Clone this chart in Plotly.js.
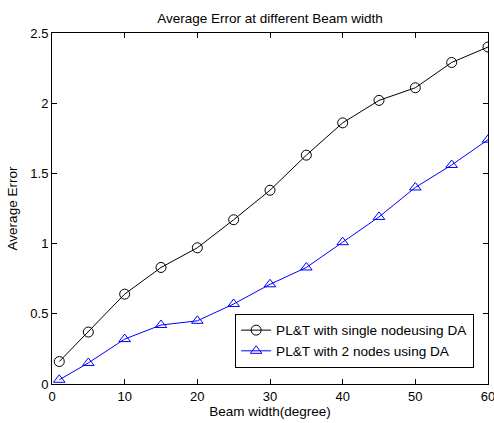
<!DOCTYPE html>
<html><head><meta charset="utf-8">
<script src="https://cdn.plot.ly/plotly-3.0.1.min.js"></script>
<style>body{margin:0;background:#fff}#c{width:494px;height:423px}</style>
</head><body><div id="c"></div>
<script>
const beamWidth = [1, 5, 10, 15, 20, 25, 30, 35, 40, 45, 50, 55, 60];
const singleNode = [0.16, 0.37, 0.64, 0.83, 0.97, 1.17, 1.38, 1.63, 1.86, 2.02, 2.11, 2.29, 2.40];
const twoNodes = [0.03, 0.15, 0.32, 0.42, 0.45, 0.57, 0.71, 0.83, 1.01, 1.19, 1.40, 1.56, 1.74];
const seriesNames = ['PL&T with single nodeusing DA', 'PL&T with 2 nodes using DA'];
const xTicks = [0, 10, 20, 30, 40, 50, 60];
const yTicks = [0, 0.5, 1, 1.5, 2, 2.5];

const FAM = 'Arial, Liberation Sans, sans-serif';
function f(size) { return {family: FAM, size: size, color: '#000'}; }
const traces = [
  {x: beamWidth, y: singleNode, name: seriesNames[0], mode: 'lines+markers', type: 'scatter',
   line: {color: '#000', width: 1}, marker: {symbol: 'circle-open', size: 10, color: '#000', line: {width: 1}}},
  {x: beamWidth, y: twoNodes, name: seriesNames[1], mode: 'lines+markers', type: 'scatter',
   line: {color: '#0000ff', width: 1}, marker: {symbol: 'triangle-up-open', size: 10, color: '#0000ff', line: {width: 1}}}
];
function axis(extra) {
  return Object.assign({showgrid: false, zeroline: false, showline: true, linecolor: '#000', linewidth: 1,
    mirror: 'ticks', ticks: 'inside', ticklen: 5, tickcolor: '#000', tickfont: f(13), ticklabeloverflow: 'allow'}, extra);
}
const layout = {
  width: 494, height: 423, paper_bgcolor: '#fff', plot_bgcolor: '#fff', font: f(13),
  margin: {l: 52, r: 6, t: 33, b: 39},
  title: {text: 'Average Error at different Beam width', font: f(13.5), xref: 'paper', x: 0.5, xanchor: 'center', y: 0.957, yanchor: 'middle'},
  xaxis: axis({range: [0, 60], tickvals: xTicks, ticktext: xTicks.map(String),
    title: {text: 'Beam width(degree)', font: f(13.5), standoff: 1}}),
  yaxis: axis({range: [0, 2.5], tickvals: yTicks, ticktext: yTicks.map(String),
    title: {text: 'Average Error', font: f(13.5), standoff: 9}}),
  showlegend: true,
  legend: {x: 0.42, y: 0.2, xanchor: 'left', yanchor: 'top', bgcolor: '#fff', bordercolor: '#000', borderwidth: 1,
    font: f(13.6), tracegroupgap: 0}
};
Plotly.newPlot('c', traces, layout, {staticPlot: true});
</script></body></html>
